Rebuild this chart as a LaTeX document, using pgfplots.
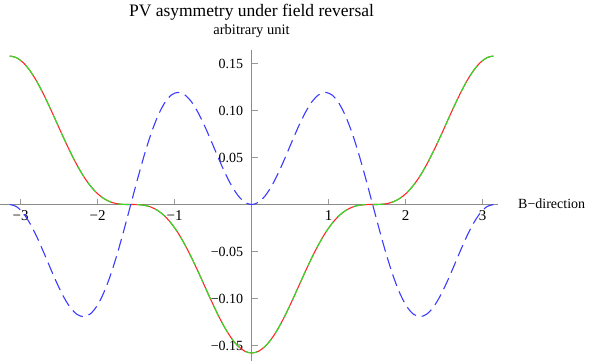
\documentclass[border=0pt]{standalone}
\usepackage{pgfplots}
\usepackage{pgfplotstable}
\pgfplotsset{compat=1.18}
\usepackage{fontspec}
\setmainfont{Liberation Serif}
\definecolor{cred}{RGB}{255,40,40}
\definecolor{cgreen}{RGB}{40,225,40}
\definecolor{cblue}{RGB}{60,60,255}
\pgfplotstableread{
x r b
-3.1416 0.1580 0
-3.0543 0.1562 -0.0023
-2.9671 0.1509 -0.0092
-2.8798 0.1424 -0.0201
-2.7925 0.1311 -0.0341
-2.7053 0.1176 -0.0502
-2.6180 0.1026 -0.0671
-2.5307 0.0868 -0.0835
-2.4435 0.0710 -0.0981
-2.3562 0.0559 -0.1096
-2.2689 0.0420 -0.1169
-2.1817 0.0298 -0.1193
-2.0944 0.0198 -0.1163
-2.0071 0.0119 -0.1076
-1.9199 0.0063 -0.0936
-1.8326 0.0027 -0.0749
-1.7453 0.0008 -0.0522
-1.6581 0.0001 -0.0268
-1.5708 0 0
-1.4835 -0.0001 0.0268
-1.3963 -0.0008 0.0522
-1.3090 -0.0027 0.0749
-1.2217 -0.0063 0.0936
-1.1345 -0.0119 0.1076
-1.0472 -0.0198 0.1163
-0.9599 -0.0298 0.1193
-0.8727 -0.0420 0.1169
-0.7854 -0.0559 0.1096
-0.6981 -0.0710 0.0981
-0.6109 -0.0868 0.0835
-0.5236 -0.1026 0.0671
-0.4363 -0.1176 0.0502
-0.3491 -0.1311 0.0341
-0.2618 -0.1424 0.0201
-0.1745 -0.1509 0.0092
-0.0873 -0.1562 0.0023
0 -0.1580 0
0.0873 -0.1562 0.0023
0.1745 -0.1509 0.0092
0.2618 -0.1424 0.0201
0.3491 -0.1311 0.0341
0.4363 -0.1176 0.0502
0.5236 -0.1026 0.0671
0.6109 -0.0868 0.0835
0.6981 -0.0710 0.0981
0.7854 -0.0559 0.1096
0.8727 -0.0420 0.1169
0.9599 -0.0298 0.1193
1.0472 -0.0198 0.1163
1.1345 -0.0119 0.1076
1.2217 -0.0063 0.0936
1.3090 -0.0027 0.0749
1.3963 -0.0008 0.0522
1.4835 -0.0001 0.0268
1.5708 0 0
1.6581 0.0001 -0.0268
1.7453 0.0008 -0.0522
1.8326 0.0027 -0.0749
1.9199 0.0063 -0.0936
2.0071 0.0119 -0.1076
2.0944 0.0198 -0.1163
2.1817 0.0298 -0.1193
2.2689 0.0420 -0.1169
2.3562 0.0559 -0.1096
2.4435 0.0710 -0.0981
2.5307 0.0868 -0.0835
2.6180 0.1026 -0.0671
2.7053 0.1176 -0.0502
2.7925 0.1311 -0.0341
2.8798 0.1424 -0.0201
2.9671 0.1509 -0.0092
3.0543 0.1562 -0.0023
3.1416 0.1580 0
}\datatab
\begin{document}
\begin{tikzpicture}[x=1pt,y=1pt]
\useasboundingbox (0,0) rectangle (589,361);
\begin{axis}[
  at={(0pt,0pt)}, anchor=south west,
  scale only axis, width=498pt, height=311pt,
  xmin=-3.269, xmax=3.199, ymin=-0.1665, ymax=0.1644,
  axis lines=middle,
  axis line style={-, draw=black!45, line width=0.6pt},
  tick style={draw=black!40, line width=0.6pt},
  tick align=inside,
  major tick length=6pt, minor tick length=4pt,
  xtick={-3,-2,-1,1,2,3},
  xticklabels={−3,−2,−1,1,2,3},
  ytick={-0.15,-0.10,-0.05,0.05,0.10,0.15},
  yticklabels={−0.15,−0.10,−0.05,0.05,0.10,0.15},
  minor x tick num=4, minor y tick num=4,
  xticklabel style={font=\fontsize{15}{17}\selectfont, anchor=north, yshift=-3pt},
  yticklabel style={font=\fontsize{14}{16}\selectfont, anchor=east, xshift=-5pt},
  clip=false,
]
\addplot[cred, line width=1.1pt, smooth] table[x=x,y=r] {\datatab};
\addplot[cgreen, line width=1.1pt, smooth, dash pattern=on 12pt off 7pt] table[x=x,y=r] {\datatab};
\addplot[cblue, line width=1.1pt, smooth, dash pattern=on 12pt off 6pt] table[x=x,y=b] {\datatab};
\end{axis}
\node[anchor=base, font=\fontsize{17.5}{20}\selectfont] at (251.5,344) {PV asymmetry under field reversal};
\node[anchor=base, font=\fontsize{14.5}{16}\selectfont] at (251.5,326) {arbitrary unit};
\node[anchor=base west, font=\fontsize{14}{16}\selectfont, inner sep=0pt] at (518,152) {B−direction};
\end{tikzpicture}
\end{document}
